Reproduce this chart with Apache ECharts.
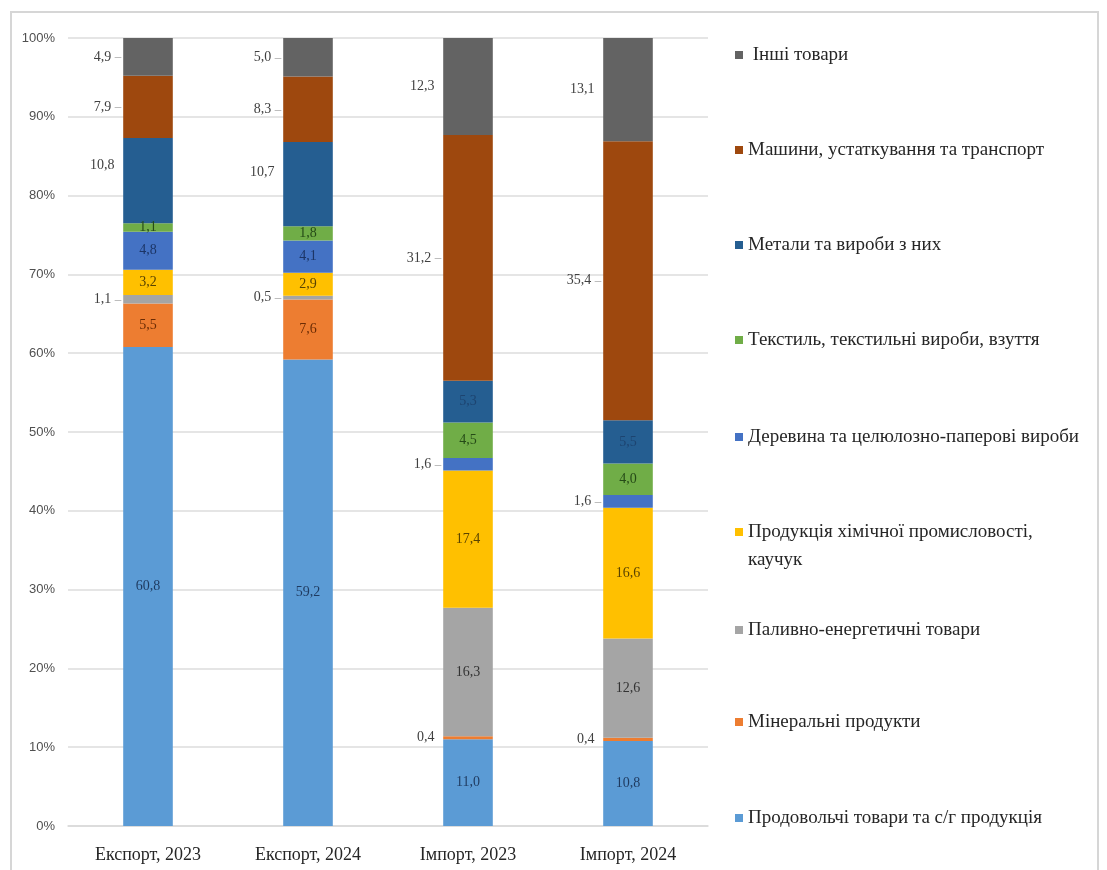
<!DOCTYPE html>
<html>
<head>
<meta charset="utf-8">
<script src="https://cdn.jsdelivr.net/npm/echarts@6/dist/echarts.min.js"></script>
<style>
  html, body { margin: 0; padding: 0; background: #ffffff; }
  #chart { width: 1107px; height: 870px; }
</style>
</head>
<body>
<div id="chart"></div>
<script>
// Товарна структура експорту та імпорту, % (знизу вгору)
const categories = ['Експорт, 2023', 'Експорт, 2024', 'Імпорт, 2023', 'Імпорт, 2024'];

const foodValues      = [60.8, 59.2, 11.0, 10.8]; // Продовольчі товари та с/г продукція
const mineralValues   = [5.5, 7.6, 0.4, 0.4];     // Мінеральні продукти
const fuelValues      = [1.1, 0.5, 16.3, 12.6];   // Паливно-енергетичні товари
const chemicalValues  = [3.2, 2.9, 17.4, 16.6];   // Продукція хімічної промисловості, каучук
const woodValues      = [4.8, 4.1, 1.6, 1.6];     // Деревина та целюлозно-паперові вироби
const textileValues   = [1.1, 1.8, 4.5, 4.0];     // Текстиль, текстильні вироби, взуття
const metalValues     = [10.8, 10.7, 5.3, 5.5];   // Метали та вироби з них
const machineryValues = [7.9, 8.3, 31.2, 35.4];   // Машини, устаткування та транспорт
const otherValues     = [4.9, 5.0, 12.3, 13.1];   // Інші товари

const seriesNames = [
  'Продовольчі товари та с/г продукція',
  'Мінеральні продукти',
  'Паливно-енергетичні товари',
  'Продукція хімічної промисловості, каучук',
  'Деревина та целюлозно-паперові вироби',
  'Текстиль, текстильні вироби, взуття',
  'Метали та вироби з них',
  'Машини, устаткування та транспорт',
  'Інші товари'
];
const seriesValues = [foodValues, mineralValues, fuelValues, chemicalValues, woodValues,
                      textileValues, metalValues, machineryValues, otherValues];

const yTicks = [0, 10, 20, 30, 40, 50, 60, 70, 80, 90, 100];

// Оформлення
const colors = ['#5B9BD5', '#ED7D31', '#A5A5A5', '#FFC000', '#4472C4',
                '#70AD47', '#255E91', '#9E480E', '#636363'];
const insideLabelColors = ['#1F3A5F', '#6B2C05', '#333333', '#5A4300', '#1C3566',
                           '#254A17', '#1D4470', '#5A2A08', '#333333'];

// Розміщення підписів: 'in' — всередині стовпця, 'dash' — ліворуч з рискою, 'left' — ліворуч без риски
const labelPlacement = [
  ['in', 'in', 'in', 'in'],
  ['in', 'in', 'left', 'left'],
  ['dash', 'dash', 'in', 'in'],
  ['in', 'in', 'in', 'in'],
  ['in', 'in', 'dash', 'dash'],
  ['in', 'in', 'in', 'in'],
  ['left', 'left', 'in', 'in'],
  ['dash', 'dash', 'dash', 'dash'],
  ['dash', 'dash', 'left', 'left']
];
const labelShift = { '6-0': [0, -15], '6-1': [0, -12] };

const fmt = v => v.toFixed(1).replace('.', ',');
const serif = '"Liberation Serif", "DejaVu Serif", serif';

const series = seriesNames.map((name, si) => ({
  name: name,
  type: 'bar',
  stack: 'total',
  barWidth: '31%',
  itemStyle: { color: colors[si] },
  data: seriesValues[si].map((v, ci) => {
    const mode = labelPlacement[si][ci];
    const item = { value: v };
    if (mode === 'in') {
      item.label = {
        show: true, position: 'inside',
        formatter: p => fmt(p.value),
        color: insideLabelColors[si], fontFamily: serif, fontSize: 14
      };
    } else {
      item.label = {
        show: true, position: 'left', distance: 2,
        formatter: p => mode === 'dash' ? '{v|' + fmt(p.value) + '} {d|–}' : '{v|' + fmt(p.value) + '}  ',
        offset: labelShift[si + '-' + ci] || [0, 0],
        rich: {
          v: { color: '#404040', fontFamily: serif, fontSize: 14 },
          d: { color: '#9a9a9a', fontFamily: serif, fontSize: 13 }
        }
      };
    }
    return item;
  })
}));

// Легенда праворуч, у зворотному порядку (від верхнього сегмента)
const legendCenters = [55, 150, 245, 340, 437, 532, 630, 722, 818];
const legendOrder = seriesNames.slice().reverse();
const legends = legendOrder.map((name, i) => {
  const twoLine = name.indexOf('каучук') >= 0;
  return {
    data: [name],
    orient: 'vertical',
    left: 735,
    // дворядковий підпис: порожній перший рядок, щоб маркер стояв навпроти першого рядка тексту
    top: twoLine ? legendCenters[i] - 42 : legendCenters[i] - 11,
    padding: 0,
    itemWidth: 8,
    itemHeight: 8,
    icon: 'rect',
    selectedMode: false,
    formatter: n => twoLine ? ' \nПродукція хімічної промисловості,\nкаучук' : (i === 0 ? ' ' + n : n),
    textStyle: { color: '#262626', fontFamily: serif, fontSize: 19, lineHeight: twoLine ? 28 : 22 }
  };
});

const chart = echarts.init(document.getElementById('chart'), null, { renderer: 'canvas' });
chart.setOption({
  animation: false,
  backgroundColor: '#ffffff',
  color: colors,
  grid: { left: 68, right: 399, top: 38, bottom: 44, containLabel: false },
  legend: legends,
  xAxis: {
    type: 'category',
    data: categories,
    axisLine: { show: true, lineStyle: { color: '#d9d9d9', width: 1.5 } },
    axisTick: { show: false },
    axisLabel: { color: '#262626', fontFamily: serif, fontSize: 18, margin: 20 }
  },
  yAxis: {
    type: 'value',
    min: yTicks[0],
    max: yTicks[yTicks.length - 1],
    interval: 10,
    axisLine: { show: false },
    axisTick: { show: false },
    axisLabel: {
      color: '#505050', fontFamily: '"Liberation Sans", Arial, sans-serif', fontSize: 13,
      margin: 13, formatter: '{value}%'
    },
    splitLine: { lineStyle: { color: '#dcdcdc', width: 1.5 } }
  },
  graphic: [{
    type: 'rect',
    shape: { x: 11, y: 12, width: 1087, height: 880 },
    style: { fill: 'none', stroke: '#d6d6d6', lineWidth: 2 },
    silent: true
  }],
  series: series
});
</script>
</body>
</html>
